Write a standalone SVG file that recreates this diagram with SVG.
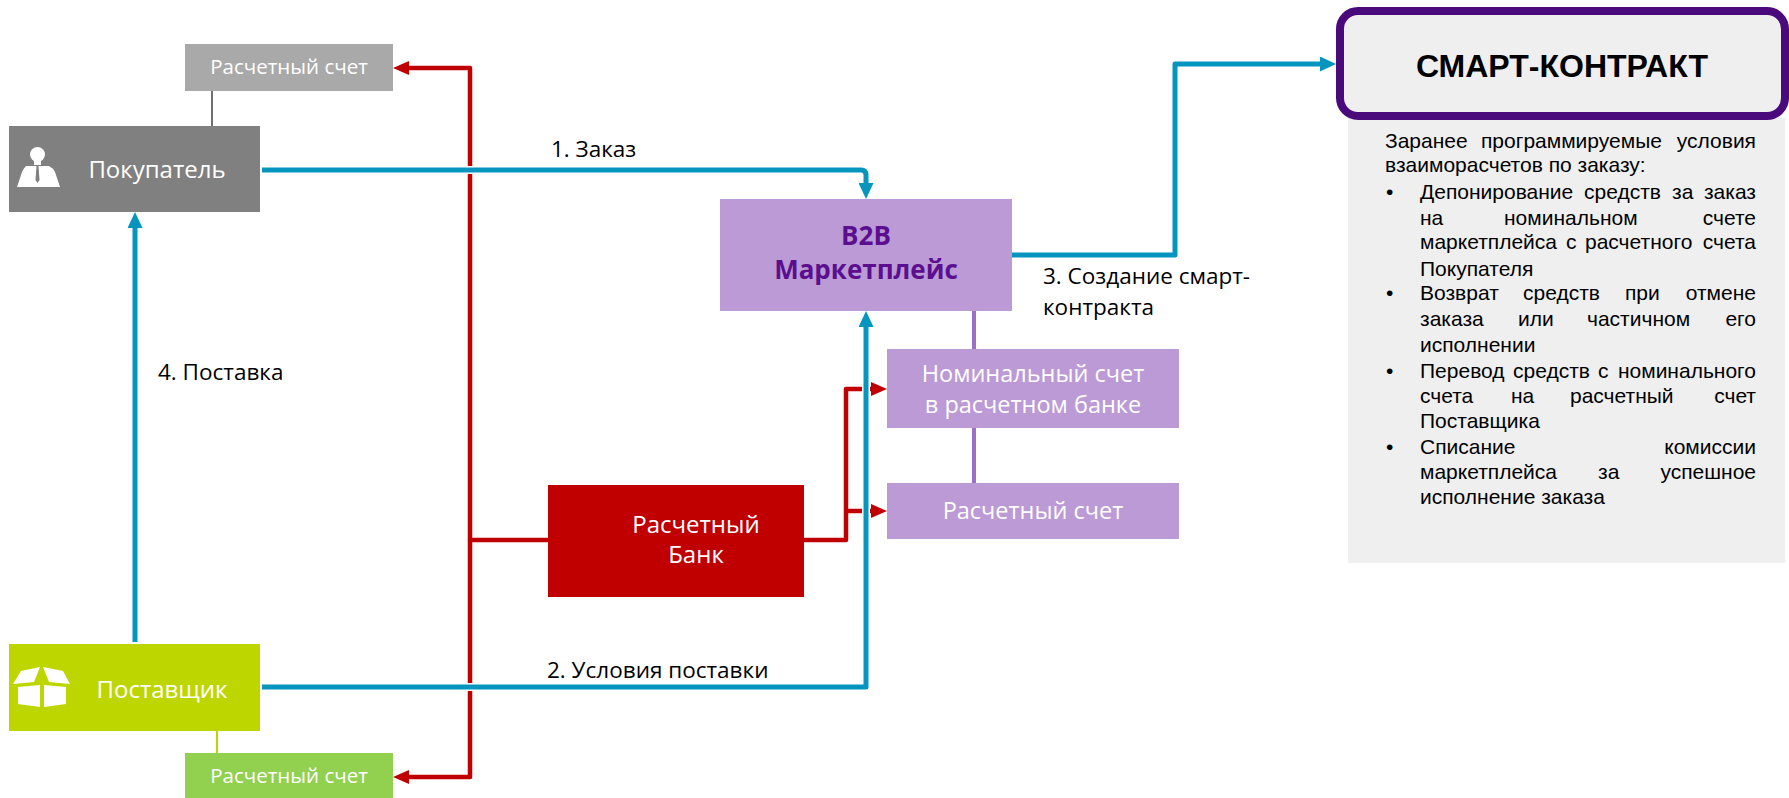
<svg xmlns="http://www.w3.org/2000/svg" xmlns:xlink="http://www.w3.org/1999/xlink" width="1789" height="798" viewBox="0 0 1789 798">
<style>
.lbl{font-family:"Open Sans","Noto Sans","DejaVu Sans",sans-serif;fill:#ffffff;text-anchor:middle}
.cap{font-family:"Open Sans","Noto Sans","DejaVu Sans",sans-serif;fill:#000000;font-size:22.5px}
.b2b{font-family:"Open Sans","Noto Sans","DejaVu Sans",sans-serif;fill:#5B0F8E;font-weight:bold;font-size:26px;text-anchor:middle}
.pnl{font-family:"Liberation Sans",Arial,sans-serif;fill:#000000;font-size:21px}
.end{text-anchor:end}
.blueU{fill:none;stroke:#ffffff;stroke-width:8;stroke-linejoin:round}
.blue{fill:none;stroke:#0595BF;stroke-width:5;stroke-linejoin:round}
.red{fill:none;stroke:#C00000;stroke-width:4.5;stroke-linejoin:round}
</style>
<defs>
<marker id="ab" markerUnits="userSpaceOnUse" viewBox="0 0 16 15" markerWidth="16" markerHeight="15" refX="4" refY="7.5" orient="auto"><path d="M0,0 L16,7.5 L0,15 z" fill="#0595BF"/></marker>
<marker id="ar" markerUnits="userSpaceOnUse" viewBox="0 0 16 14" markerWidth="16" markerHeight="14" refX="4" refY="7" orient="auto"><path d="M0,0 L16,7 L0,14 z" fill="#C00000"/></marker>
<path id="p1" d="M262,170 H861 Q866,170 866,175 V187"/>
<path id="p2" d="M262,687 H866 V323"/>
<path id="p3" d="M1012,255 H1175 V64 H1324"/>
<path id="p4" d="M135,642 V224"/>
</defs>
<rect width="1789" height="798" fill="#ffffff"/>

<g id="connectors">
<path d="M212,91 V126" stroke="#404040" stroke-width="1.5" fill="none"/>
<path d="M217,731 V753" stroke="#BED600" stroke-width="2" fill="none"/>
<path d="M974,311 V349" stroke="#9E6FC8" stroke-width="4" fill="none"/>
<path d="M974,428 V483" stroke="#9E6FC8" stroke-width="4" fill="none"/>
<path class="red" d="M548,540 H470 V68 H405" marker-end="url(#ar)"/>
<path class="red" d="M470,540 V777 H405" marker-end="url(#ar)"/>
<path class="red" d="M804,540 H846 V389 H875" marker-end="url(#ar)"/>
<path class="red" d="M846,511 H875" marker-end="url(#ar)"/>
<use xlink:href="#p1" class="blueU"/>
<use xlink:href="#p2" class="blueU"/>
<use xlink:href="#p3" class="blueU"/>
<use xlink:href="#p4" class="blueU"/>
<use xlink:href="#p1" class="blue" marker-end="url(#ab)"/>
<use xlink:href="#p2" class="blue" marker-end="url(#ab)"/>
<use xlink:href="#p3" class="blue" marker-end="url(#ab)"/>
<use xlink:href="#p4" class="blue" marker-end="url(#ab)"/>
<text class="cap" x="551" y="157">1. Заказ</text>
<text class="cap" x="547" y="678">2. Условия поставки</text>
<text class="cap" x="1043" y="284">3. Создание смарт-</text>
<text class="cap" x="1043" y="315">контракта</text>
<text class="cap" x="158" y="380">4. Поставка</text>
</g>

<g id="buyer-account">
<rect x="185" y="44" width="208" height="47" fill="#A9A9A9"/>
<text class="lbl" x="289" y="74" font-size="20.5">Расчетный счет</text>
</g>

<g id="buyer">
<rect x="9" y="126" width="251" height="86" fill="#808080"/>
<circle cx="37.5" cy="154.5" r="7.5" fill="#ffffff"/>
<path d="M34,161 h7 v4 h-7 z" fill="#ffffff"/>
<path d="M26,166 L49,166 Q53,168 55,172 L60,187 L17,187 L22,172 Q24,168 26,166 z" fill="#ffffff"/>
<path d="M36.5,166 L38.5,166 L39.5,180 L37.5,183 L35.5,180 z" fill="#808080"/>
<text class="lbl" x="157" y="178" font-size="24">Покупатель</text>
</g>

<g id="supplier">
<rect x="9" y="644" width="251" height="87" fill="#BED600"/>
<path d="M13,684 L21,671 L40,667 L34,682 z" fill="#ffffff"/>
<path d="M70,684 L63,671 L43,667 L49,682 z" fill="#ffffff"/>
<path d="M18,687 L40,685 L40,707 L18,704 z" fill="#ffffff"/>
<path d="M44,685 L66,687 L66,704 L44,707 z" fill="#ffffff"/>
<text class="lbl" x="162" y="698" font-size="24">Поставщик</text>
</g>

<g id="supplier-account">
<rect x="185" y="753" width="208" height="45" fill="#92D050"/>
<text class="lbl" x="289" y="783" font-size="20.5">Расчетный счет</text>
</g>

<g id="bank">
<rect x="548" y="485" width="256" height="112" fill="#C00000"/>
<text class="lbl" x="696" y="533" font-size="24">Расчетный</text>
<text class="lbl" x="696" y="563" font-size="24">Банк</text>
</g>

<g id="marketplace">
<rect x="720" y="199" width="292" height="112" fill="#BB9AD5"/>
<text class="b2b" x="866" y="245">B2B</text>
<text class="b2b" x="866" y="279">Маркетплейс</text>
</g>

<g id="nominal-account">
<rect x="887" y="349" width="292" height="79" fill="#BB9AD5"/>
<text class="lbl" x="1033" y="382" font-size="23.5">Номинальный счет</text>
<text class="lbl" x="1033" y="413" font-size="23.5">в расчетном банке</text>
</g>

<g id="marketplace-account">
<rect x="887" y="483" width="292" height="56" fill="#BB9AD5"/>
<text class="lbl" x="1033" y="519" font-size="23.5">Расчетный счет</text>
</g>

<g id="smart-contract">
<rect x="1348" y="118" width="437" height="445" fill="#EFEFEF"/>
<rect x="1340" y="11" width="445" height="105" rx="18" ry="18" fill="#EFEFEF" stroke="#4B0A7C" stroke-width="8"/>
<text x="1562" y="77" font-family="'Liberation Sans',Arial,sans-serif" font-weight="bold" font-size="32" text-anchor="middle" fill="#000000">СМАРТ-КОНТРАКТ</text>
<text class="pnl" x="1385" y="148">Заранее</text>
<text class="pnl" x="1481" y="148">программируемые</text>
<text class="pnl end" x="1756" y="148">условия</text>
<text class="pnl" x="1385" y="172">взаиморасчетов по заказу:</text>
<text class="pnl" x="1386" y="199">•</text>
<text class="pnl" x="1386" y="300">•</text>
<text class="pnl" x="1386" y="378">•</text>
<text class="pnl" x="1386" y="454">•</text>
<text class="pnl" x="1420" y="199">Депонирование</text>
<text class="pnl" x="1584" y="199">средств</text>
<text class="pnl" x="1672" y="199">за</text>
<text class="pnl end" x="1756" y="199">заказ</text>
<text class="pnl" x="1420" y="225">на</text>
<text class="pnl" x="1504" y="225">номинальном</text>
<text class="pnl end" x="1756" y="225">счете</text>
<text class="pnl" x="1420" y="249">маркетплейса</text>
<text class="pnl" x="1566" y="249">с</text>
<text class="pnl" x="1585" y="249">расчетного</text>
<text class="pnl end" x="1756" y="249">счета</text>
<text class="pnl" x="1420" y="276">Покупателя</text>
<text class="pnl" x="1420" y="300">Возврат</text>
<text class="pnl" x="1523" y="300">средств</text>
<text class="pnl" x="1625" y="300">при</text>
<text class="pnl end" x="1756" y="300">отмене</text>
<text class="pnl" x="1420" y="326">заказа</text>
<text class="pnl" x="1518" y="326">или</text>
<text class="pnl" x="1587" y="326">частичном</text>
<text class="pnl end" x="1756" y="326">его</text>
<text class="pnl" x="1420" y="352">исполнении</text>
<text class="pnl" x="1420" y="378">Перевод</text>
<text class="pnl" x="1513" y="378">средств</text>
<text class="pnl" x="1598" y="378">с</text>
<text class="pnl end" x="1756" y="378">номинального</text>
<text class="pnl" x="1420" y="403">счета</text>
<text class="pnl" x="1511" y="403">на</text>
<text class="pnl" x="1570" y="403">расчетный</text>
<text class="pnl end" x="1756" y="403">счет</text>
<text class="pnl" x="1420" y="428">Поставщика</text>
<text class="pnl" x="1420" y="454">Списание</text>
<text class="pnl end" x="1756" y="454">комиссии</text>
<text class="pnl" x="1420" y="479">маркетплейса</text>
<text class="pnl" x="1598" y="479">за</text>
<text class="pnl end" x="1756" y="479">успешное</text>
<text class="pnl" x="1420" y="504">исполнение заказа</text>
</g>
</svg>
